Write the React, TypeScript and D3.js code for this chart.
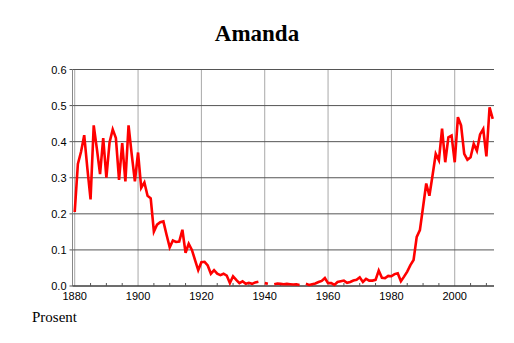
import React from "react";
import * as d3 from "d3";

const TITLE = "Amanda";
const Y_LABEL = "Prosent";
const START_YEAR = 1880;
// share (percent) per year, null = no data
const values: (number | null)[] = [
  0.205, 0.338, 0.372, 0.418, 0.325, 0.24, 0.445, 0.38, 0.31, 0.41, // 1880-1889
  0.3, 0.398, 0.434, 0.41, 0.294, 0.396, 0.29, 0.445, 0.365, 0.29, // 1890-1899
  0.37, 0.272, 0.287, 0.25, 0.243, 0.151, 0.17, 0.177, 0.179, 0.142, // 1900-1909
  0.107, 0.126, 0.122, 0.123, 0.156, 0.092, 0.117, 0.1, 0.072, 0.044, // 1910-1919
  0.066, 0.067, 0.057, 0.034, 0.044, 0.034, 0.03, 0.034, 0.029, 0.008, // 1920-1929
  0.027, 0.017, 0.008, 0.013, 0.006, 0.009, 0.006, 0.01, 0.012, null, // 1930-1939
  0.008, 0.006, null, 0.005, 0.007, 0.006, 0.005, 0.006, 0.005, 0.004, // 1940-1949
  0.005, 0.003, null, 0.006, 0.003, 0.005, 0.007, 0.011, 0.014, 0.022, // 1950-1959
  0.008, 0.008, 0.003, 0.011, 0.013, 0.015, 0.009, 0.011, 0.015, 0.017, // 1960-1969
  0.024, 0.011, 0.02, 0.015, 0.015, 0.017, 0.043, 0.023, 0.022, 0.028, // 1970-1979
  0.027, 0.033, 0.035, 0.013, 0.026, 0.04, 0.058, 0.072, 0.136, 0.155, // 1980-1989
  0.219, 0.284, 0.25, 0.307, 0.366, 0.348, 0.436, 0.343, 0.412, 0.417, // 1990-1999
  0.343, 0.468, 0.445, 0.366, 0.35, 0.357, 0.394, 0.375, 0.42, 0.435, // 2000-2009
  0.359, 0.495, 0.463, // 2010-2012
];
const xMajorTicks = [1880, 1900, 1920, 1940, 1960, 1980, 2000];
const xMinorTicks = [
  1885, 1890, 1895, 1905, 1910, 1915, 1925, 1930, 1935, 1945, 1950, 1955,
  1965, 1970, 1975, 1985, 1990, 1995, 2005, 2010,
];
const yTicks = [0, 0.1, 0.2, 0.3, 0.4, 0.5, 0.6];

const W = 514;
const H = 343;

export default function App() {
  const x = d3.scaleLinear().domain([1879.3, 2012.4]).range([72.5, 494]);
  const y = d3.scaleLinear().domain([0, 0.6]).range([286, 69.5]);
  const data = values.map((v, i) => ({ year: START_YEAR + i, v }));
  const line = d3
    .line<{ year: number; v: number | null }>()
    .defined((d) => d.v != null)
    .x((d) => x(d.year))
    .y((d) => y(d.v as number));
  const tickFont = "'Liberation Sans', Arial, Helvetica, sans-serif";
  const serif = "'Liberation Serif', 'Times New Roman', Times, serif";
  const [x0, x1] = x.range();
  return (
    <svg
      width={W}
      height={H}
      style={{ position: "absolute", left: 0, top: 0, background: "#fff" }}
    >
      <rect x={0} y={0} width={W} height={H} fill="#fff" />
      <text
        x={257}
        y={41}
        textAnchor="middle"
        fontFamily={serif}
        fontWeight="bold"
        fontSize={23}
        fill="#000"
      >
        {TITLE}
      </text>
      {/* vertical grid */}
      {xMajorTicks.map((t) => (
        <line
          key={"vg" + t}
          x1={x(t)}
          x2={x(t)}
          y1={y(0.6)}
          y2={y(0)}
          stroke="#a8a8a8"
          strokeWidth={1}
        />
      ))}
      {/* horizontal grid */}
      {yTicks.map((t) => (
        <line
          key={"hg" + t}
          x1={x0}
          x2={x1}
          y1={y(t)}
          y2={y(t)}
          stroke="#555"
          strokeWidth={1}
        />
      ))}
      {/* axes */}
      <line x1={x0} x2={x0} y1={y(0.6)} y2={y(0)} stroke="#888" strokeWidth={1} />
      <line x1={x0} x2={x1} y1={y(0)} y2={y(0)} stroke="#333" strokeWidth={1} />
      {yTicks.map((t) => (
        <g key={"yt" + t}>
          <line x1={x0 - 3} x2={x0} y1={y(t)} y2={y(t)} stroke="#555" />
          <text
            x={x0 - 6}
            y={y(t) + 4}
            textAnchor="end"
            fontFamily={tickFont}
            fontSize={11}
            fill="#000"
          >
            {t.toFixed(1)}
          </text>
        </g>
      ))}
      {xMinorTicks.map((t) => (
        <line
          key={"mt" + t}
          x1={x(t)}
          x2={x(t)}
          y1={y(0)}
          y2={y(0) - 3}
          stroke="#555"
        />
      ))}
      {xMajorTicks.map((t) => (
        <text
          key={"xt" + t}
          x={x(t)}
          y={300}
          textAnchor="middle"
          fontFamily={tickFont}
          fontSize={11}
          fill="#000"
        >
          {t}
        </text>
      ))}
      <path
        d={line(data) || ""}
        fill="none"
        stroke="#ff0000"
        strokeWidth={2.6}
        strokeLinejoin="miter"
      />
      <text x={32} y={322} fontFamily={serif} fontSize={15} fill="#000">
        {Y_LABEL}
      </text>
    </svg>
  );
}
